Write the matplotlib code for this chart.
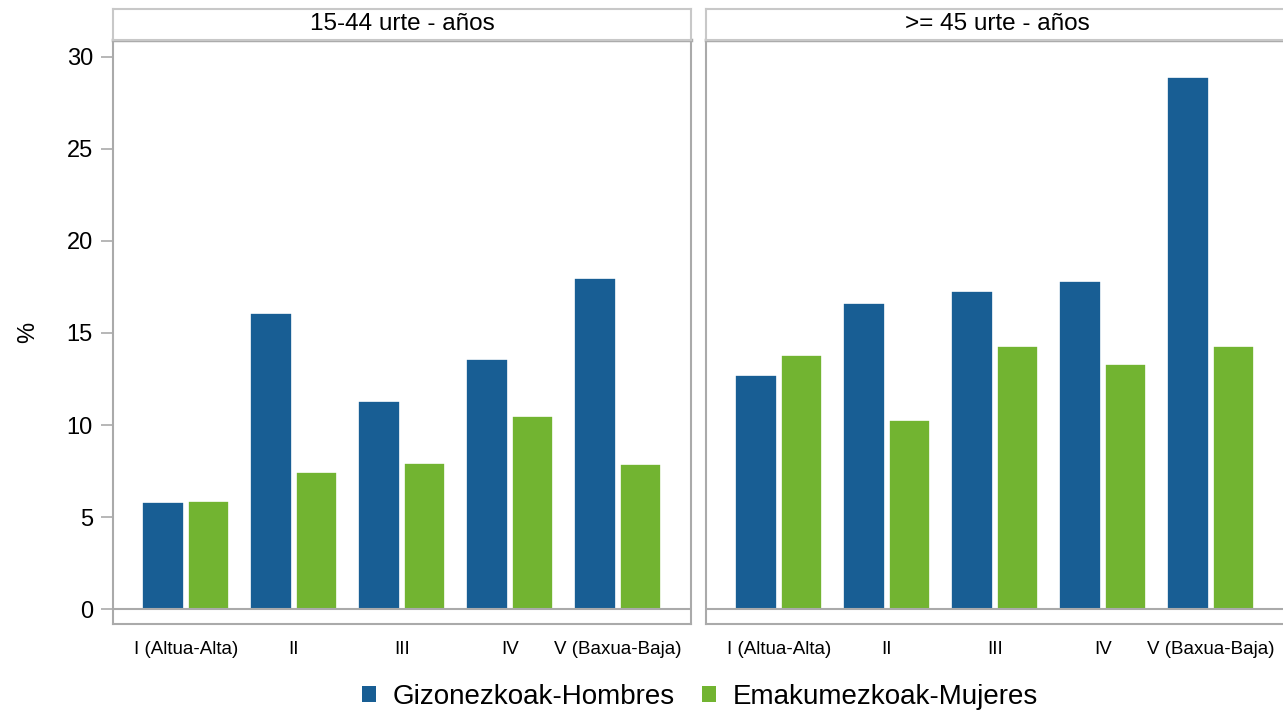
import matplotlib
matplotlib.use("Agg")
import matplotlib.pyplot as plt
from matplotlib.patches import Patch

plt.rcParams['font.family'] = ['Liberation Sans', 'DejaVu Sans']

categories = ["I (Altua-Alta)", "II", "III", "IV", "V (Baxua-Baja)"]
panels = ["15-44 urte - años", ">= 45 urte - años"]
series_names = ["Gizonezkoak-Hombres", "Emakumezkoak-Mujeres"]
hombres_15_44 = [5.8, 16.1, 11.3, 13.6, 18.0]
mujeres_15_44 = [5.85, 7.45, 7.95, 10.5, 7.9]
hombres_45 = [12.7, 16.6, 17.3, 17.8, 28.9]
mujeres_45 = [13.8, 10.25, 14.3, 13.3, 14.3]
yticks = [0, 5, 10, 15, 20, 25, 30]

blue = "#185E94"
green = "#72B431"
frame = "#AAAAAA"

W, H = 1283, 712
fig = plt.figure(figsize=(W / 100, H / 100), dpi=100)

def fx(px):
    return px / W

def fy(py):
    return 1 - py / H

plot_top, plot_bot, strip_top = 40, 624, 9
data = [(hombres_15_44, mujeres_15_44), (hombres_45, mujeres_45)]
lefts = [113, 706]
widths = [578, 582]

x = list(range(len(categories)))
for i, (left, aw, title, (h, m)) in enumerate(zip(lefts, widths, panels, data)):
    ax = fig.add_axes([fx(left), fy(plot_bot), fx(aw), (plot_bot - plot_top) / H])
    off = 0.2125
    bw = 0.385
    ax.bar([v - off for v in x], h, width=bw, color=blue, edgecolor="white", linewidth=1.2, zorder=2)
    ax.bar([v + off for v in x], m, width=bw, color=green, edgecolor="white", linewidth=1.2, zorder=2)
    ax.axhline(0, color=frame, lw=1.5, zorder=3)
    ax.set_xlim(-0.673, -0.673 + aw / 108.0)
    ax.set_ylim(-0.8, 30.9)
    ax.set_xticks(x)
    ax.set_xticklabels(categories, fontsize=13.5)
    ax.tick_params(axis="x", length=0, pad=12)
    for s in ax.spines.values():
        s.set_color(frame)
        s.set_linewidth(1.5)
    ax.spines["top"].set_linewidth(2.5)
    if i == 0:
        ax.set_yticks(yticks)
        ax.set_yticklabels([str(t) for t in yticks], fontsize=17)
        ax.tick_params(axis="y", length=8.6, width=1.2, color=frame, pad=5.8)
        ax.set_ylabel("%", fontsize=17, labelpad=20)
    else:
        ax.set_yticks([])
    # strip header
    sax = fig.add_axes([fx(left), fy(plot_top), fx(aw), (plot_top - strip_top) / H])
    sax.set_xticks([])
    sax.set_yticks([])
    for s in sax.spines.values():
        s.set_color("#C8C8C8")
        s.set_linewidth(1.5)
    sax.text(0.5, 0.5, title, ha="center", va="center", fontsize=17.5, transform=sax.transAxes)

handles = [Patch(facecolor=blue, edgecolor="none"), Patch(facecolor=green, edgecolor="none")]
fig.legend(handles, series_names, loc="center", bbox_to_anchor=(fx(700), fy(697)), ncol=2,
           frameon=False, fontsize=20, handlelength=0.5, handleheight=0.5,
           handletextpad=0.58, columnspacing=1.0, borderpad=0)

fig.savefig("out.png", dpi=100)
